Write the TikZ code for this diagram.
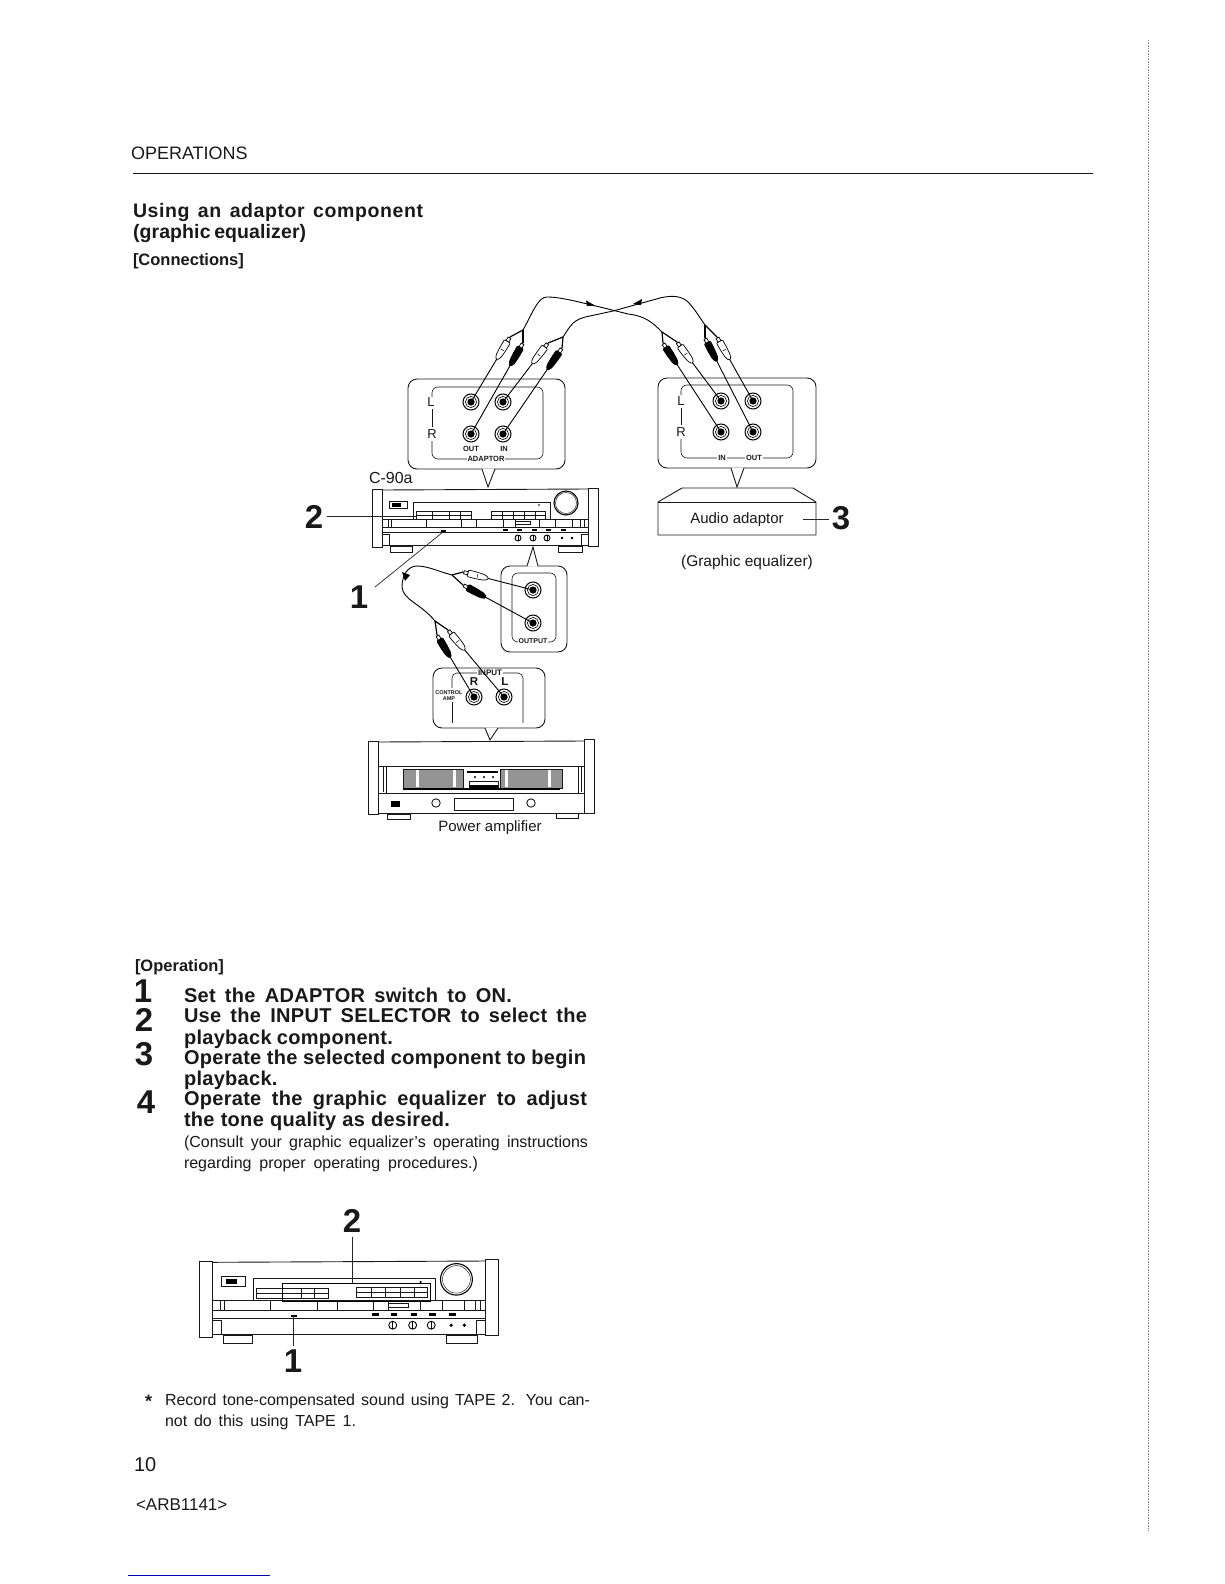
\documentclass[tikz,border=0pt]{standalone}
\usepackage{fontspec}
\setmainfont{Liberation Sans}
\usetikzlibrary{calc}
\tikzset{
  ink/.style={draw=black!90,line width=0.9pt},
  fine/.style={draw=black!90,line width=0.6pt},
  panel/.style={draw=black!90,line width=0.9pt,rounded corners=9pt},
  wire/.style={draw=black,line width=0.9pt},
  leader/.style={draw=black!85,line width=0.7pt},
  txt/.style={inner sep=0pt,outer sep=0pt,anchor=base west,text=black!90},
  ctr/.style={inner sep=0pt,outer sep=0pt,text=black!90},
  tag/.style={ctr,fill=white,inner xsep=1pt,inner ysep=0.5pt,font=\bfseries\fontsize{7.5}{8}\selectfont},
  big/.style={ctr,font=\bfseries\fontsize{33}{33}\selectfont},
  body/.style={fill=#1,draw=black,line width=0.7pt},
}
\newcommand{\tl}[4]{\node[txt] at (#1,#2) {\makebox[#3pt][s]{#4}};}
\newcommand{\jackat}[3]{\coordinate (#1) at (#2,#3);
  \draw[line width=1pt] (#1) circle (8);
  \draw[line width=0.6pt] (#1) circle (5.6);
  \fill[black] (#1) circle (3.6);}
\newcommand{\panelbox}[7]{%
  \draw[panel] (#1,#2) rectangle (#3,#4);
  \fill[white] (#5,#4-0.5) -- (#6,#7) -- (#5+13,#4-0.5) -- cycle;
  \draw[ink] (#5,#4) -- (#6,#7) -- (#5+13,#4);}
\newcommand{\panelup}[7]{%
  \draw[panel] (#1,#2) rectangle (#3,#4);
  \fill[white] (#5,#2+0.5) -- (#6,#7) -- (#5+11,#2+0.5) -- cycle;
  \draw[ink] (#5,#2) -- (#6,#7) -- (#5+11,#2);}
\newcommand{\plugat}[4]{%
  \draw[wire] (#1) -- (#2);
  \pgfmathanglebetweenpoints{\pgfpointanchor{#2}{center}}{\pgfpointanchor{#1}{center}}%
  \let\plugang\pgfmathresult
  \begin{scope}[shift={(#2)},rotate=\plugang]
    \draw[body=#3,rounded corners=1pt] (5,-3.4) -- (13,-3.4) -- (22,-2.8) -- (26,-1) -- (26,1) -- (22,2.8) -- (13,3.4) -- (5,3.4) -- cycle;
    \draw[body=white] (1,-1.6) rectangle (5,1.6);
    \ifx#3black\fill[white] (15,0) circle (1.2);\else\draw[line width=0.5pt] (15,-1.8) -- (15,1.8);\fi
  \end{scope}
  \draw[line width=1.2pt] (#2) -- (#4);}
\newcommand{\recv}{%
  \draw[ink,fill=white] (372,489) rectangle (382,547);
  \draw[ink,fill=white] (588,488) rectangle (598,546);
  \draw[ink] (382,490) -- (588,489);
  \draw[ink] (382,545) -- (588,545);
  \draw[fine] (382,519) -- (588,519);
  \draw[fine] (382,527) -- (588,527);
  \draw[fine] (382,532.5) -- (588,532.5);
  \draw[fine] (413,519) -- (413,502) -- (550,502) -- (550,519);
  \foreach \a in {388,391,426,461,476,503,515,539,555,572,580,584} {\draw[fine] (\a,519) -- (\a,527);}
  \draw[fine] (515,521) rectangle (530,524);
  \draw[fine] (389,501) rectangle (407,508);
  \fill[black] (392,503) rectangle (401,506.5);
  \draw[line width=1.1pt] (566,503) circle (12);
  \draw[line width=0.4pt] (566,503) circle (10.5);
  \fill[black] (539,505) circle (0.9);
  \draw[fine] (382,534) rectangle (389,545);
  \draw[fine] (581,534) rectangle (588,545);
  \draw[fine,fill=white] (390,546) rectangle (412,552);
  \draw[fine,fill=white] (558,546) rectangle (582,552);
  \foreach \a in {505,519,534,548,563} {\fill[black] (\a-2.5,529) rectangle (\a+2.5,531);}
  \fill[black] (441,530) rectangle (446,532);
  \foreach \a in {518,533,547} {\draw[line width=0.9pt,fill=white] (\a,538) circle (3); \draw[line width=0.9pt] (\a,535) -- (\a,541);}
  \foreach \a in {562,572} {\draw[line width=0.6pt,fill=black] (\a,538) circle (1);}
}
\begin{document}
\begin{tikzpicture}[x=1pt,y=-1pt]
\useasboundingbox (0,0) rectangle (1224,1584);
\fill[white] (0,0) rectangle (1224,1584);

% header
\node[txt,font=\fontsize{18}{18}\selectfont] (hd) at (131,160) {OPERATIONS};
\draw[line width=1pt,black!90] (133,173) -- (1093,173);
\draw[line width=0.6pt,black!45,densely dotted] (1148,40) -- (1148,1530);
\draw[line width=0.8pt,blue!70!black] (128,1575) -- (270,1575);

\begingroup\bfseries\fontsize{19.5}{20}\selectfont\addfontfeature{LetterSpace=3}
\tl{133}{217}{290}{Using an adaptor component}
\endgroup
\begingroup\bfseries\fontsize{19.5}{20}\selectfont\addfontfeature{LetterSpace=0.5}
\tl{133}{238}{171}{(graphic equalizer)}
\endgroup
\node[txt,font=\bfseries\fontsize{16.5}{17}\selectfont] (conn) at (133,265) {[Connections]};

% upper panels
\panelbox{408}{379}{565}{469}{482}{488}{487}
\draw[fine,rounded corners=6pt] (432,397) -- (432,387) -- (543,387) -- (543,459) -- (432,459) -- (432,441);
\draw[fine] (432,409) -- (432,427);
\panelbox{658}{378}{816}{468}{731}{737}{487}
\draw[fine,rounded corners=6pt] (681,395) -- (681,385) -- (793,385) -- (793,458) -- (681,458) -- (681,439);
\draw[fine] (681,408) -- (681,425);

\node[ctr,font=\fontsize{13}{13}\selectfont] (lA) at (431,402) {L};
\node[ctr,font=\fontsize{13}{13}\selectfont] (rA) at (432,434) {R};
\node[tag] (outA) at (471,449) {OUT};
\node[tag] (inA) at (504,449) {IN};
\node[tag] (adp) at (486,459) {ADAPTOR};
\node[ctr,font=\fontsize{13}{13}\selectfont] (lB) at (681,401) {L};
\node[ctr,font=\fontsize{13}{13}\selectfont] (rB) at (681,432) {R};
\node[tag] (inB) at (722,458) {IN};
\node[tag] (outB) at (754,458) {OUT};

\jackat{a1}{471}{402}\jackat{a2}{503}{402}\jackat{a3}{471}{434}\jackat{a4}{503}{434}
\jackat{b1}{721}{401}\jackat{b2}{753}{401}\jackat{b3}{721}{432}\jackat{b4}{753}{432}

\coordinate (fa) at (523,330); \coordinate (ta1) at (510,337); \coordinate (ta2) at (523,343);
\coordinate (fb) at (563,337); \coordinate (tb1) at (548,343); \coordinate (tb2) at (562,348);
\coordinate (fc) at (662,332); \coordinate (tc1) at (677,342); \coordinate (tc2) at (663,343);
\coordinate (fd) at (705,325); \coordinate (td1) at (717,337); \coordinate (td2) at (705,338);
\plugat{a1}{ta1}{white}{fa}\plugat{a3}{ta2}{black}{fa}
\plugat{a2}{tb1}{white}{fb}\plugat{a4}{tb2}{black}{fb}
\plugat{b1}{tc1}{white}{fc}\plugat{b3}{tc2}{black}{fc}
\plugat{b2}{td1}{white}{fd}\plugat{b4}{td2}{black}{fd}

\draw[wire] (fa) .. controls (533,312) and (538,297) .. (547,297) .. controls (562,297) and (582,303) .. (600,307) -- (628,314) .. controls (645,316) and (652,322) .. (fc);
\draw[wire] (fb) .. controls (571,325) and (573,319) .. (590,316) -- (613,311) -- (660,298) .. controls (672,295) and (682,296) .. (688,302) .. controls (694,308) and (698,315) .. (fd);
\fill[black] (595,305.5) -- (586,300.5) -- (587,306) -- cycle;
\fill[black] (633,304) -- (642,299) -- (641,305) -- cycle;

% receiver C-90a
\node[txt,font=\fontsize{16}{16}\selectfont] (c90) at (369,483) {C-90a};
\recv
\draw[fine] (416,511) rectangle (471,519);
\draw[fine] (416,515) -- (471,515);
\foreach \a in {432,449,460} {\draw[fine] (\a,511) -- (\a,519);}
\draw[fine] (491,511) rectangle (545,519);
\draw[fine] (491,515) -- (545,515);
\foreach \a in {502,513,524,535} {\draw[fine] (\a,511) -- (\a,519);}
\draw[leader] (327,516) -- (416,516);
\node[big] (two) at (314,517) {2};

% audio adaptor
\draw[ink,fill=white] (658,502) -- (682,488) -- (793,488) -- (816,502) -- (816,535) -- (658,535) -- cycle;
\draw[ink] (658,502) -- (816,502);
\node[ctr,font=\fontsize{15}{15}\selectfont] (aud) at (737,520) {Audio adaptor};
\draw[leader] (803,519) -- (829,519);
\node[big] (three) at (841,518) {3};
\node[ctr,font=\fontsize{15.5}{16}\selectfont] (geq) at (747,562) {(Graphic equalizer)};

% output panel and link
\draw[leader] (375,587) -- (443,532);
\node[big] (one) at (359,597) {1};
\panelup{501}{566}{567}{652}{527}{533}{547}
\draw[fine,rounded corners=6pt] (512,573) rectangle (556,642);
\node[tag,font=\bfseries\fontsize{7}{8}\selectfont] (outp) at (533,641) {OUTPUT};
\jackat{c1}{533}{590}\jackat{c2}{533}{623}

% input panel
\panelbox{433}{668}{545}{728}{485}{490}{740}
\draw[fine] (452,723) -- (452,700);
\draw[fine,rounded corners=5pt] (452,688) -- (452,673) -- (523,673) -- (523,723);
\node[tag,font=\bfseries\fontsize{8}{8}\selectfont] (inp) at (490,673) {INPUT};
\node[ctr,font=\bfseries\fontsize{11.5}{12}\selectfont] (rC) at (474,682) {R};
\node[ctr,font=\bfseries\fontsize{11.5}{12}\selectfont] (lC) at (505,682) {L};
\node[ctr,font=\bfseries\fontsize{5.5}{6}\selectfont,align=center,fill=white,inner ysep=1pt] (ctl) at (449,696) {CONTROL\\AMP};
\jackat{d1}{474}{697}\jackat{d2}{504}{697}

\coordinate (fe) at (452,575); \coordinate (te1) at (463,572); \coordinate (te2) at (463,585);
\coordinate (ff) at (435,621); \coordinate (tf1) at (448,630); \coordinate (tf2) at (437,635);
\plugat{c1}{te1}{white}{fe}\plugat{c2}{te2}{black}{fe}
\plugat{d2}{tf1}{white}{ff}\plugat{d1}{tf2}{black}{ff}
\draw[wire] (fe) .. controls (440,572) and (428,566) .. (417,566) .. controls (408,566) and (402,575) .. (402,587) .. controls (403,600) and (420,603) .. (ff);
\fill[black] (405,581) -- (402,572) -- (410,575) -- cycle;

% power amplifier
\draw[ink,fill=white] (368,741) rectangle (378,814);
\draw[ink,fill=white] (584,739) rectangle (594,813);
\draw[ink] (378,742) -- (584,741);
\draw[ink] (378,766) -- (584,766);
\draw[ink] (378,793) -- (584,793);
\draw[ink] (378,813) -- (584,813);
\draw[fine] (386,766) -- (386,793); \draw[fine] (578,766) -- (578,793);
\draw[fine] (383,766) -- (383,792); \draw[fine] (581,766) -- (581,792);
\draw[fine,fill=black!42] (403,769) rectangle (463,788);
\draw[fine,fill=black!42] (500,769) rectangle (562,788);
\fill[white] (416,770) rectangle (419,787); \fill[white] (453,770) rectangle (456,787);
\fill[white] (505,770) rectangle (508,787); \fill[white] (548,770) rectangle (551,787);
\draw[line width=1.4pt] (467,772) -- (498,772);
\foreach \a in {475,484,493} {\fill[black] (\a,777) circle (1.2);}
\draw[fine] (469,788) -- (469,781) -- (498,781) -- (498,788);
\fill[black] (469,785) rectangle (498,788);
\draw[line width=1.3pt] (403,789) -- (560,789);
\fill[black] (391,801) rectangle (400,807);
\draw[ink,fill=white] (436,803) circle (4.2);
\draw[ink,fill=white] (531,803) circle (4.2);
\draw[fine,fill=white] (454,798) rectangle (513,810);
\draw[ink,fill=white] (387,814) rectangle (410,819);
\draw[ink,fill=white] (556,813) rectangle (578,818);
\node[ctr,font=\fontsize{15}{15}\selectfont] (pw) at (490,828) {Power amplifier};

% operation text
\node[txt,font=\bfseries\fontsize{16.5}{17}\selectfont] (opr) at (135,971) {[Operation]};
\node[big] (n1) at (143,991) {1};
\node[big] (n2) at (144,1020) {2};
\node[big] (n3) at (144,1054) {3};
\node[big] (n4) at (146,1102) {4};
\begingroup\bfseries\fontsize{20}{20}\selectfont\addfontfeature{LetterSpace=1.5}
\tl{184}{1002}{328}{Set the ADAPTOR switch to ON.}
\tl{184}{1022}{403}{Use the INPUT SELECTOR to select the}
\tl{184}{1044}{209}{playback component.}
\tl{184}{1064}{402}{Operate the selected component to begin}
\tl{184}{1085}{95}{playback.}
\tl{184}{1105}{403}{Operate the graphic equalizer to adjust}
\tl{184}{1126}{266}{the tone quality as desired.}
\endgroup
\begingroup\fontsize{16}{16}\selectfont
\tl{184}{1147}{404}{(Consult your graphic equalizer’s operating instructions}
\tl{184}{1168}{294}{regarding proper operating procedures.)}
\tl{165}{1405}{425}{Record tone-compensated sound using TAPE 2. You can-}
\tl{165}{1426}{191}{not do this using TAPE 1.}
\endgroup
\node[txt,font=\bfseries\fontsize{18}{18}\selectfont] (ast) at (145,1407) {*};

% second receiver
\begin{scope}[shift={(199,1261)},xscale=1.327,yscale=1.31,shift={(-372,-489)}]
\recv
\end{scope}
\draw[fine] (256,1288) rectangle (328,1298);
\draw[fine] (256,1293) -- (328,1293);
\foreach \a in {282,301,314} {\draw[fine] (\a,1288) -- (\a,1298);}
\draw[fine] (356,1287) rectangle (427,1297);
\draw[fine] (356,1292) -- (427,1292);
\foreach \a in {371,385,400,414} {\draw[fine] (\a,1287) -- (\a,1297);}
\draw[line width=0.8pt] (282,1283) -- (430,1283) -- (430,1301) -- (282,1301) -- cycle;
\node[big] (two2) at (352,1221) {2};
\draw[leader] (352,1237) -- (352,1283);
\node[big] (one2) at (293,1361) {1};
\draw[leader] (293,1315) -- (293,1346);

% footer
\node[txt,font=\fontsize{20}{20}\selectfont] (pg) at (134,1471) {10};
\node[txt,font=\fontsize{17}{17}\selectfont] (arb) at (136,1510) {<ARB1141>};
\end{tikzpicture}
\end{document}
